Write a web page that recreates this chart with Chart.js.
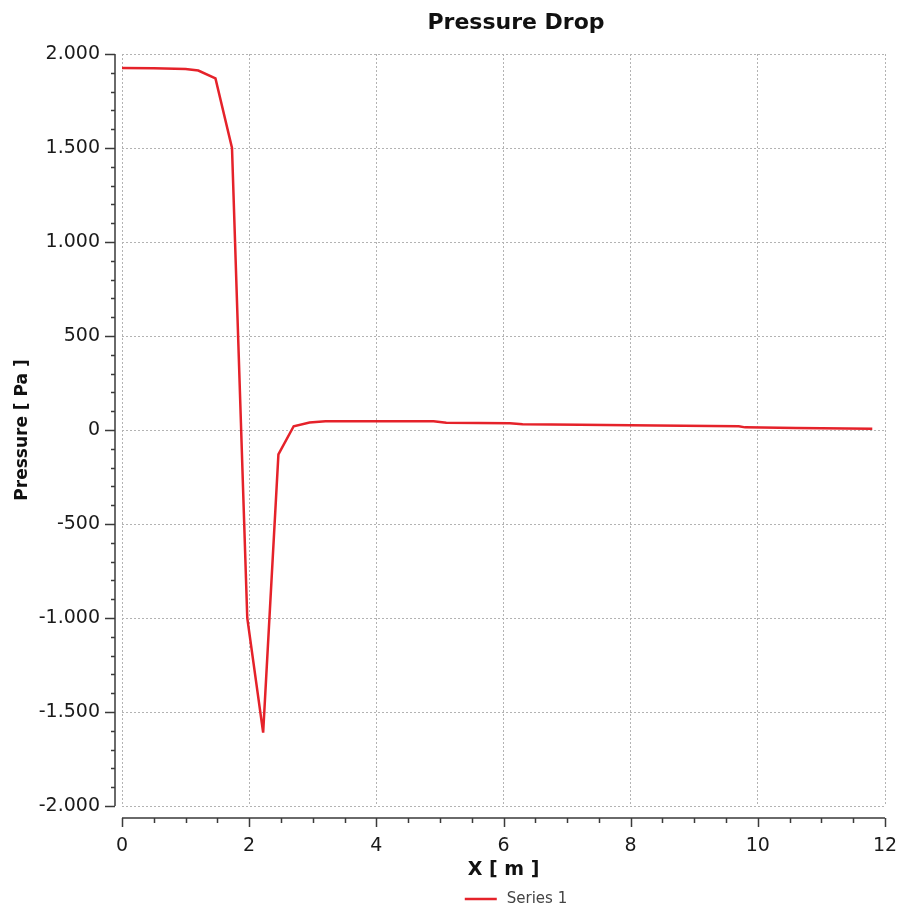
<!DOCTYPE html>
<html>
<head>
<meta charset="utf-8">
<title>Pressure Drop</title>
<script src="https://cdn.jsdelivr.net/npm/chart.js@4.4.0/dist/chart.umd.min.js"></script>
<style>
	html, body { margin: 0; padding: 0; background: #fff; }
	canvas { display: block; }
</style>
</head>
<body>
<canvas id="chart-canvas" width="906" height="910"></canvas>
<script>
// values
const positions = [0, 0.5, 1.0, 1.2, 1.47, 1.73, 1.97, 2.22, 2.46, 2.7, 2.95, 3.2, 4.9, 5.1, 6.1, 6.3, 7.2, 8.4, 9.7, 9.8, 10.6, 11.8];
const pressures = [1925, 1924, 1920, 1912, 1870, 1500, -1000, -1610, -130, 20, 40, 46, 46, 38, 36, 30, 28, 24, 20, 14, 11, 7];
const seriesName = 'Series 1';
const chartTitle = 'Pressure Drop';
const xTitle = 'X [ m ]';
const yTitle = 'Pressure [ Pa ]';
const xRange = [0, 12];
const yRange = [-2000, 2000];
const xStep = 2, xMinor = 0.5;
const yStep = 500, yMinor = 100;

const FONT = 'DejaVu Sans';
const ctx = document.querySelector('#chart-canvas').getContext('2d');

// axis lines sit a little away from the plot, with major and minor ticks
const offsetAxes = {
	id: 'offsetAxes',
	afterDraw(chart) {
		const { ctx, chartArea: area, scales: { x, y } } = chart;
		const yLine = area.left - 7;
		const xLine = area.bottom + 12;
		ctx.save();
		ctx.strokeStyle = '#3a3a3a';
		ctx.lineWidth = 1.5;
		ctx.beginPath();
		ctx.moveTo(yLine, area.top);
		ctx.lineTo(yLine, area.bottom);
		for (let v = yRange[0]; v <= yRange[1]; v += yMinor) {
			const py = Math.round(y.getPixelForValue(v)) + 0.5;
			const len = v % yStep === 0 ? 10 : 4;
			ctx.moveTo(yLine - len, py);
			ctx.lineTo(yLine, py);
		}
		ctx.moveTo(x.getPixelForValue(xRange[0]), xLine);
		ctx.lineTo(x.getPixelForValue(xRange[1]), xLine);
		for (let v = xRange[0]; v <= xRange[1] + 1e-9; v += xMinor) {
			const px = Math.round(x.getPixelForValue(v)) + 0.5;
			const len = Math.abs(v % xStep) < 1e-9 ? 9 : 5;
			ctx.moveTo(px, xLine);
			ctx.lineTo(px, xLine + len);
		}
		ctx.stroke();
		ctx.restore();
	}
};

// title and legend centred like in the original
const captions = {
	id: 'captions',
	afterDraw(chart) {
		const { ctx } = chart;
		const ds = chart.data.datasets[0];
		const cx = 516;
		ctx.save();
		ctx.fillStyle = '#111';
		ctx.font = `bold 22px "${FONT}"`;
		ctx.textAlign = 'center';
		ctx.textBaseline = 'middle';
		ctx.fillText(chartTitle, cx, 23);

		ctx.font = `15px "${FONT}"`;
		const tw = ctx.measureText(ds.label).width;
		const lineW = 32, gap = 10;
		const left = cx - (lineW + gap + tw) / 2;
		const ly = 899;
		ctx.strokeStyle = ds.borderColor;
		ctx.lineWidth = 2.5;
		ctx.beginPath();
		ctx.moveTo(left, ly);
		ctx.lineTo(left + lineW, ly);
		ctx.stroke();
		ctx.fillStyle = '#444';
		ctx.textAlign = 'left';
		ctx.fillText(ds.label, left + lineW + gap, ly);
		ctx.restore();
	}
};

const chart = new Chart(ctx, {
	type: 'line',
	data: {
		datasets: [
			{
				label: seriesName,
				data: positions.map((p, i) => ({ x: p, y: pressures[i] })),
				borderColor: '#e5222a',
				backgroundColor: '#e5222a',
				borderWidth: 2.5,
				pointRadius: 0,
				tension: 0
			}
		]
	},
	plugins: [offsetAxes, captions],
	options: {
		responsive: false,
		animation: false,
		locale: 'de-DE',
		layout: {
			padding: { left: 0, right: 0, top: 54, bottom: 24 }
		},
		plugins: {
			legend: { display: false },
			title: { display: false },
			tooltip: { enabled: false }
		},
		scales: {
			x: {
				type: 'linear',
				min: xRange[0],
				max: xRange[1],
				afterFit: scale => {
					scale.height = 80;
					scale.paddingLeft = 0;
					scale.paddingRight = 21;
				},
				ticks: {
					stepSize: xStep,
					padding: 29,
					color: '#1a1a1a',
					font: { family: FONT, size: 19 }
				},
				grid: {
					color: '#b3b3b3',
					lineWidth: 1,
					drawTicks: false
				},
				border: { display: false, dash: [2, 2] },
				title: {
					display: true,
					text: xTitle,
					color: '#111',
					padding: { top: 0, bottom: 5 },
					font: { family: FONT, size: 19, weight: 'bold' }
				}
			},
			y: {
				min: yRange[0],
				max: yRange[1],
				afterFit: scale => { scale.width = 122; },
				ticks: {
					stepSize: yStep,
					padding: 22,
					color: '#1a1a1a',
					font: { family: FONT, size: 19 }
				},
				grid: {
					color: '#b3b3b3',
					lineWidth: 1,
					drawTicks: false
				},
				border: { display: false, dash: [2, 2] },
				title: {
					display: true,
					text: yTitle,
					color: '#111',
					padding: { top: 12, bottom: 0 },
					font: { family: FONT, size: 17, weight: 'bold' }
				}
			}
		}
	}
});
</script>
</body>
</html>
